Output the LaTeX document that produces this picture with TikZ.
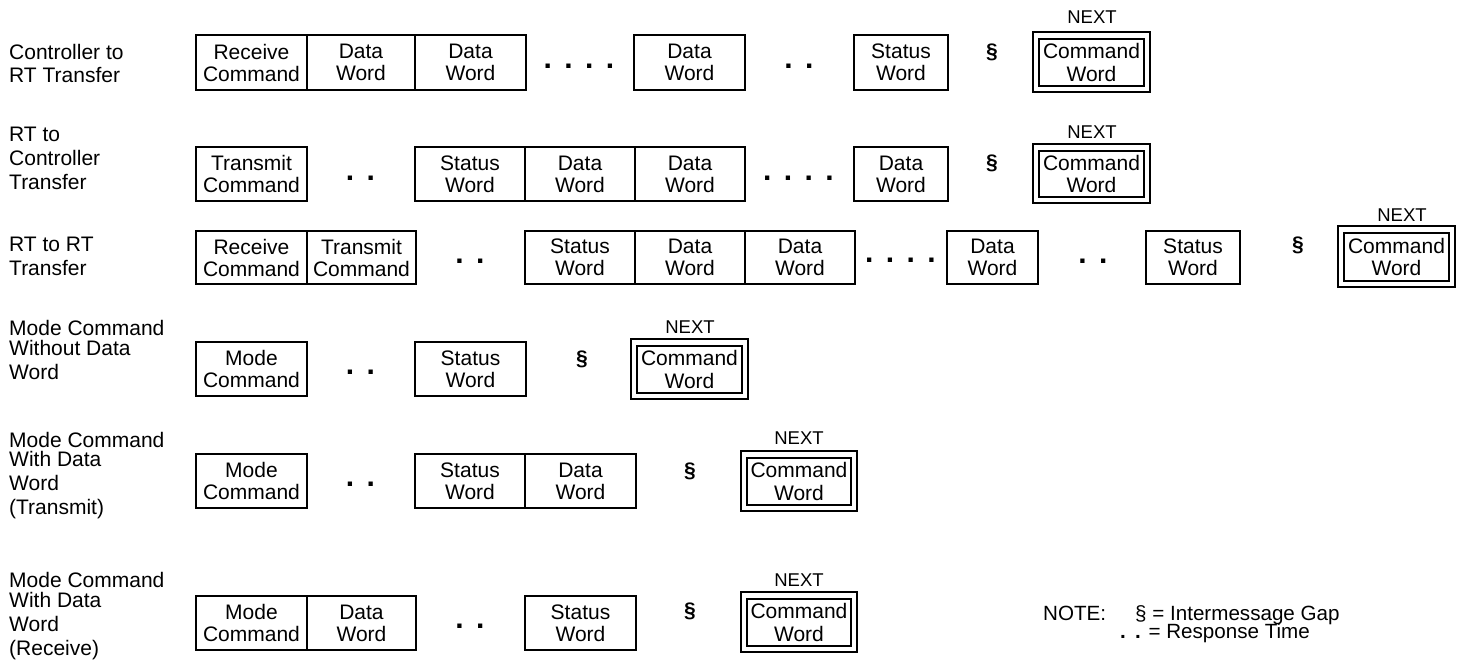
\documentclass[tikz,border=0pt]{standalone}
\usepackage{fontspec}
\setmainfont{Liberation Sans}
\tikzset{
  wbox/.style={draw, line width=2.7pt, inner sep=0pt, align=center, font=\fontsize{21}{22}\selectfont},
  obox/.style={draw, line width=2.2pt, inner sep=0pt},
  ibox/.style={draw, line width=2.2pt, inner sep=0pt, align=center, font=\fontsize{21}{22.5}\selectfont},
  gapd/.style={inner sep=0pt, font=\fontsize{30}{30}\selectfont\bfseries},
  sect/.style={inner sep=0pt, font=\fontsize{21}{24}\selectfont\bfseries},
  nxt/.style={inner sep=0pt, font=\fontsize{18.5}{20}\selectfont},
  lbl/.style={inner sep=0pt, anchor=north west, align=left, font=\fontsize{21}{24}\selectfont},
  notetxt/.style={inner sep=0pt, anchor=base west, font=\fontsize{20.6}{22}\selectfont}
}
\newcommand{\mybox}[6]{\node[wbox, minimum width={#3-#2}, minimum height={#5-#4}] (#1) at ({(#2+#3)/2},{(#4+#5)/2}) {#6};}
\newcommand{\dblbox}[5]{%
  \node[obox, minimum width={#3-#2}, minimum height={#5-#4}] (#1o) at ({(#2+#3)/2},{(#4+#5)/2}) {};
  \node[ibox, minimum width={#3-#2-12}, minimum height={#5-#4-13}] (#1) at ({(#2+#3)/2},{(#4+#5)/2+0.5}) {Command\\Word};}
\newcommand{\twodots}{.\hspace{12.4pt}.}
\newcommand{\fourdots}{.\hspace{12.4pt}.\hspace{12.4pt}.\hspace{12.4pt}.}
\begin{document}
\begin{tikzpicture}[x=1pt,y=-1pt]
\useasboundingbox (0,0) rectangle (1465,660);

% labels
\node[lbl] (l1) at (9,44.5) {Controller to\\[-1pt]RT Transfer};
\node[lbl] (l2) at (9,126.5) {RT to\\Controller\\Transfer};
\node[lbl] (l3) at (9,237) {RT to RT\\Transfer};
\node[lbl] (l4) at (9,320.5) {Mode Command\\[-4.5pt]Without Data\\Word};
\node[lbl] (l5) at (9,432) {Mode Command\\[-4.5pt]With Data\\Word\\(Transmit)};
\node[lbl] (l6) at (9,572) {Mode Command\\[-4pt]With Data\\Word\\(Receive)};

% row 1
\mybox{a1}{196}{307}{35}{90}{Receive\\Command}
\mybox{a2}{307}{415}{35}{90}{Data\\Word}
\mybox{a3}{415}{526}{35}{90}{Data\\Word}
\node[gapd] (a4) at (579,66) {\fourdots};
\mybox{a5}{634}{745}{35}{90}{Data\\Word}
\node[gapd] (a6) at (799,66) {\twodots};
\mybox{a7}{854}{948}{35}{90}{Status\\Word}
\node[sect] (a8) at (992,52) {§};
\node[nxt] (a9) at (1092,17) {NEXT};
\dblbox{a10}{1033}{1150}{32}{92}

% row 2
\mybox{b1}{196}{307}{147}{201}{Transmit\\Command}
\node[gapd] (b2) at (360.5,178) {\twodots};
\mybox{b3}{415}{525}{147}{201}{Status\\Word}
\mybox{b4}{525}{635}{147}{201}{Data\\Word}
\mybox{b5}{635}{745}{147}{201}{Data\\Word}
\node[gapd] (b6) at (798.5,178) {\fourdots};
\mybox{b7}{854}{948}{147}{201}{Data\\Word}
\node[sect] (b8) at (992,163) {§};
\node[nxt] (b9) at (1092,132) {NEXT};
\dblbox{b10}{1033}{1150}{144}{203}

% row 3
\mybox{c1}{196}{307}{231}{284}{Receive\\Command}
\mybox{c2}{307}{416}{231}{284}{Transmit\\Command}
\node[gapd] (c3) at (470,261) {\twodots};
\mybox{c4}{525}{635}{231}{284}{Status\\Word}
\mybox{c5}{635}{745}{231}{284}{Data\\Word}
\mybox{c6}{745}{855}{231}{284}{Data\\Word}
\node[gapd] (c7) at (900.5,260) {\fourdots};
\mybox{c8}{947}{1038}{231}{284}{Data\\Word}
\node[gapd] (c9) at (1093,261) {\twodots};
\mybox{c10}{1146}{1240}{231}{284}{Status\\Word}
\node[sect] (c11) at (1298,245) {§};
\node[nxt] (c12) at (1402,215) {NEXT};
\dblbox{c13}{1338}{1455}{226}{287}

% row 4
\mybox{d1}{196}{307}{342}{396}{Mode\\Command}
\node[gapd] (d2) at (360.5,372) {\twodots};
\mybox{d3}{415}{526}{342}{396}{Status\\Word}
\node[sect] (d4) at (582,359) {§};
\node[nxt] (d5) at (690,327) {NEXT};
\dblbox{d6}{631}{748}{339}{399}

% row 5
\mybox{e1}{196}{307}{454}{508}{Mode\\Command}
\node[gapd] (e2) at (360.5,484) {\twodots};
\mybox{e3}{415}{525}{454}{508}{Status\\Word}
\mybox{e4}{525}{636}{454}{508}{Data\\Word}
\node[sect] (e5) at (690,471) {§};
\node[nxt] (e6) at (799,438) {NEXT};
\dblbox{e7}{741}{857}{451}{511}

% row 6
\mybox{f1}{196}{307}{596}{650}{Mode\\Command}
\mybox{f2}{307}{416}{596}{650}{Data\\Word}
\node[gapd] (f3) at (470,626) {\twodots};
\mybox{f4}{525}{636}{596}{650}{Status\\Word}
\node[sect] (f5) at (690,611) {§};
\node[nxt] (f6) at (799,580) {NEXT};
\dblbox{f7}{741}{857}{592}{652}

% note
\node[notetxt] (n1) at (1043,620) {NOTE:};
\node[notetxt] (n2) at (1135,620) {§ = Intermessage Gap};
\node[notetxt, anchor=base east] (n3) at (1310,638.5) {\textbf{.}\hspace{9.3pt}\textbf{.} = Response Time};
\end{tikzpicture}
\end{document}
